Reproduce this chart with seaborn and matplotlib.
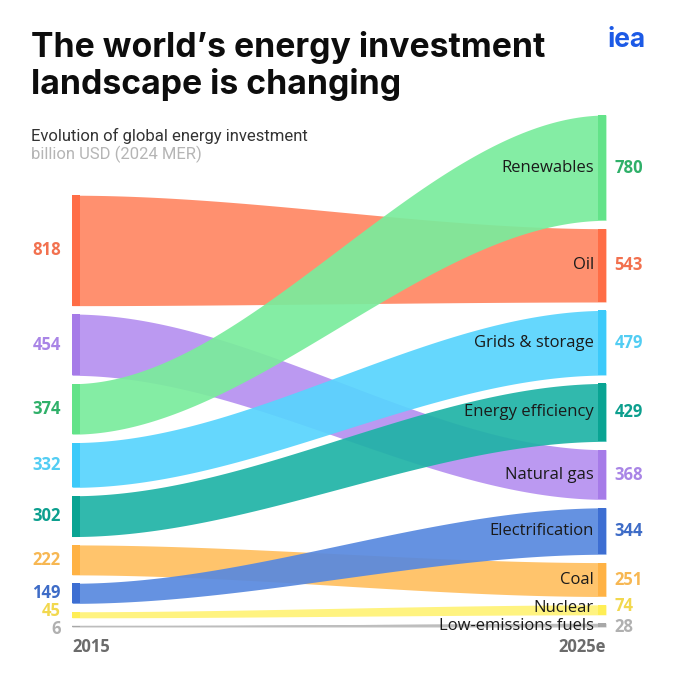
import numpy as np
import matplotlib
matplotlib.use("Agg")
import matplotlib.pyplot as plt
import seaborn as sns

# data (billion USD, 2024 MER)
categories = ["Oil", "Natural gas", "Renewables", "Grids & storage", "Energy efficiency",
              "Coal", "Electrification", "Nuclear", "Low-emissions fuels"]
inv_2015 = [818, 454, 374, 332, 302, 222, 149, 45, 6]
inv_2025 = [543, 368, 780, 479, 429, 251, 344, 74, 28]
years = ["2015", "2025e"]

band_colors = ["#FF8763", "#B690F0", "#7AEC9C", "#58D4FD", "#1FB3A6",
               "#FFBF60", "#5889DF", "#FFF275", "#BDBDBD"]
strip_colors = ["#FF6D46", "#A67BE8", "#63E389", "#3CCAFA", "#09A493",
                "#FFB244", "#3D6ED2", "#FFEE55", "#A8A8A8"]
text_colors = ["#F2714F", "#A985E6", "#2FB069", "#52CDF3", "#0C9F8E",
               "#F7B752", "#3E6CC7", "#F2D84E", "#B0B0B0"]

sns.set_theme(style="white")
plt.rcParams["font.family"] = ["Open Sans", "DejaVu Sans"]

GAP = 62
# small label nudges (points) so the two thin bottom labels don't collide
nudge = {"Nuclear": 2.5, "Low-emissions fuels": -1.5}


def stack(values):
    # bottom-aligned stack, largest on top
    order = np.argsort(values)
    lo = np.zeros(len(values))
    y = 0.0
    for i in order:
        lo[i] = y
        y += values[i] + GAP
    return lo, lo + np.array(values)


lo_l, hi_l = stack(inv_2015)
lo_r, hi_r = stack(inv_2025)
top = hi_r.max()

fig = plt.figure(figsize=(6.8, 6.8), dpi=100)
ax = fig.add_axes([72 / 680, 1 - 627 / 680, 534 / 680, 512 / 680])
ax.set_xlim(0, 1)
ax.set_ylim(0, top)
ax.axis("off")

xs = np.linspace(0, 1, 300)
s = xs * xs * (3 - 2 * xs)
strip = 0.015

change = np.array(inv_2025) - np.array(inv_2015)
for z, i in enumerate(np.argsort(change)):
    lo = lo_l[i] + (lo_r[i] - lo_l[i]) * s
    hi = hi_l[i] + (hi_r[i] - hi_l[i]) * s
    ax.fill_between(xs, lo, hi, color=band_colors[i], alpha=0.92, lw=0, zorder=2 + z)
    if categories[i] == "Low-emissions fuels":
        ax.plot(xs, (lo + hi) / 2, color=band_colors[i], lw=1.2, zorder=2 + z)
    ax.fill_between([0, strip], lo_l[i], hi_l[i], color=strip_colors[i], lw=0, zorder=20)
    ax.fill_between([1 - strip, 1], lo_r[i], hi_r[i], color=strip_colors[i], lw=0, zorder=20)

    dy = nudge.get(categories[i], 0)
    ax.annotate(str(inv_2015[i]), (0, (lo_l[i] + hi_l[i]) / 2),
                xytext=(-8, dy), textcoords="offset points", ha="right", va="center",
                fontsize=12, fontweight="bold", color=text_colors[i], annotation_clip=False)
    ax.annotate(str(inv_2025[i]), (1, (lo_r[i] + hi_r[i]) / 2),
                xytext=(6, dy), textcoords="offset points", ha="left", va="center",
                fontsize=12, fontweight="bold", color=text_colors[i], annotation_clip=False)
    ax.annotate(categories[i], (1 - strip, (lo_r[i] + hi_r[i]) / 2),
                xytext=(-3, dy * 0.5), textcoords="offset points", ha="right", va="center",
                fontsize=12, color="#1a1a1a", zorder=30, annotation_clip=False)

ax.annotate(years[0], (0, 0), xytext=(0, -8), textcoords="offset points", ha="left",
            va="top", fontsize=12, fontweight="bold", color="#6b6b6b", annotation_clip=False)
ax.annotate(years[1], (1, 0), xytext=(0, -8), textcoords="offset points", ha="right",
            va="top", fontsize=12, fontweight="bold", color="#6b6b6b", annotation_clip=False)

fig.text(31 / 680, 1 - 31 / 680, "The world\u2019s energy investment\nlandscape is changing",
         ha="left", va="top", fontsize=24.3, fontweight="bold", family=["Inter", "DejaVu Sans"],
         color="#0d0d0d", linespacing=1.15)
fig.text(646 / 680, 1 - 40 / 680, "iea", ha="right", va="center", fontsize=19,
         fontweight="bold", family=["Inter", "DejaVu Sans"], color="#1C5AE6")
fig.text(31 / 680, 1 - 136 / 680, "Evolution of global energy investment", ha="left",
         va="center", fontsize=12, family=["Roboto", "DejaVu Sans"], color="#333333")
fig.text(31 / 680, 1 - 154 / 680, "billion USD (2024 MER)", ha="left", va="center",
         fontsize=12, family=["Roboto", "DejaVu Sans"], color="#b5b5b5")

fig.savefig("out.png", dpi=100, facecolor="white")
